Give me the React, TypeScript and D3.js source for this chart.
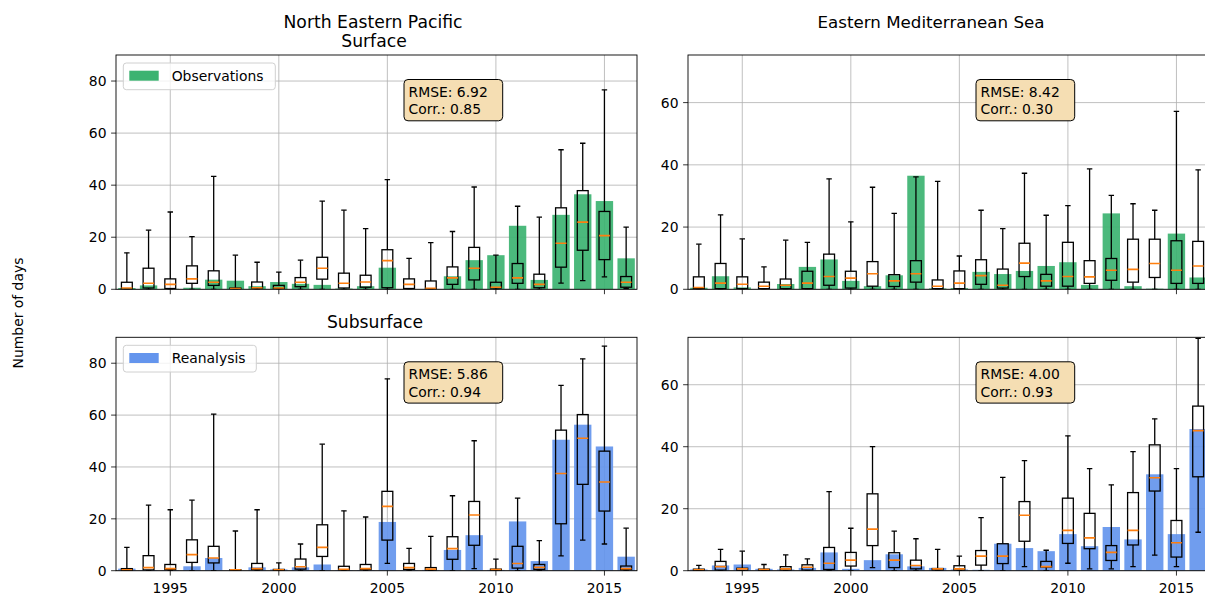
import React from 'react';
import * as d3 from 'd3';

// years on the x axis
const years = [1993, 1994, 1995, 1996, 1997, 1998, 1999, 2000, 2001, 2002, 2003, 2004,
  2005, 2006, 2007, 2008, 2009, 2010, 2011, 2012, 2013, 2014, 2015, 2016];

const xTicks = [1995, 2000, 2005, 2010, 2015];
const yTicksLeft = [0, 20, 40, 60, 80];
const yTicksRight = [0, 20, 40, 60];

// bar values (number of days)
const nepSurfBars = [0.5, 1.5, 0.2, 0.6, 3.7, 3.3, 1.2, 2.8, 2.1, 1.7, 0.3, 1.2,
  8.3, 0, 0, 5.0, 11.2, 13.1, 24.4, 3.6, 28.6, 36.5, 33.9, 11.9];
const emedSurfBars = [0.5, 4.2, 0.6, 0, 1.7, 7.2, 9.6, 2.7, 1.0, 4.5, 36.5, 0.3,
  0.4, 5.6, 4.9, 5.9, 7.5, 8.7, 1.4, 24.4, 1.0, 0.2, 17.9, 3.8];
const nepSubBars = [0.8, 0.2, 0.2, 1.7, 4.9, 0, 1.3, 0.5, 1.3, 2.4, 0.2, 0.2,
  18.8, 0.2, 0.3, 8.0, 13.7, 0.3, 19.0, 3.7, 50.5, 56.3, 47.9, 5.4];
const emedSubBars = [0.4, 1.7, 2.0, 0.6, 0.4, 0.9, 5.9, 0.6, 3.4, 5.3, 1.4, 0.9,
  0.4, 0.3, 8.7, 7.3, 6.3, 11.8, 7.9, 14.1, 10.1, 31.1, 11.8, 45.7];

// box plots: [whisker low, q1, median, q3, whisker high]
const nepSurfBox = [
  [0, 0, 0.5, 2.7, 14], [0, 0.5, 2.3, 8.1, 22.7], [0, 0.3, 1.9, 4.0, 29.7], [0, 2.3, 4.0, 9.0, 20.2],
  [0, 1.5, 2.7, 7.1, 43.4], [0, 0, 0.3, 0.5, 13.1], [0, 0.5, 0.6, 2.8, 10.4], [0, 0.3, 0.5, 1.5, 6.6],
  [0, 1.0, 2.7, 4.5, 11.2], [0, 3.9, 8.1, 12.3, 33.9], [0, 0.5, 2.3, 6.2, 30.4], [0, 0.8, 2.8, 5.4, 23.3],
  [0, 0.6, 11.0, 15.2, 42.1], [0, 0.3, 1.9, 4.0, 11.9], [0, 0.1, 0.4, 3.2, 17.9], [0, 1.9, 4.4, 8.6, 22.2],
  [0, 3.6, 8.1, 16.1, 39.3], [0, 0.5, 0.8, 2.7, 13.1], [0, 2.3, 4.4, 9.9, 31.9], [0, 0.6, 1.9, 5.8, 27.7],
  [2.4, 8.5, 17.7, 31.3, 53.6], [3.3, 15.0, 25.8, 37.9, 56.1], [4.8, 11.4, 20.6, 29.9, 76.6], [0.3, 0.8, 2.7, 4.9, 23.9],
];
const emedSurfBox = [
  [0, 0.2, 0.6, 4.0, 14.5], [0, 0.2, 2.0, 8.3, 23.9], [0, 0.2, 1.6, 4.0, 16.2], [0, 0.2, 1.0, 2.3, 7.2],
  [0, 0.2, 1.3, 3.3, 15.8], [0, 0.2, 2.0, 5.8, 15.1], [0, 1.3, 4.1, 11.3, 35.5], [0, 0.4, 3.6, 5.8, 21.7],
  [0, 1.0, 5.0, 8.9, 32.8], [0, 0.9, 2.7, 4.7, 24.4], [0, 2.3, 5.0, 9.2, 36.1], [0, 0.2, 1.0, 3.0, 34.7],
  [0, 0.2, 2.0, 5.9, 10.7], [0, 1.6, 4.4, 9.5, 25.4], [0, 0.4, 1.3, 6.5, 19.5], [0, 4.1, 8.4, 14.8, 37.3],
  [0, 1.0, 2.7, 4.8, 23.8], [0, 1.0, 4.1, 15.1, 26.9], [0, 1.9, 4.0, 9.2, 38.7], [0, 2.9, 6.1, 9.9, 30.2],
  [0, 2.3, 6.4, 16.1, 27.5], [0, 3.8, 8.3, 16.1, 25.4], [0, 1.9, 6.1, 15.6, 57.2], [0, 1.9, 7.5, 15.4, 38.4],
];
const nepSubBox = [
  [0, 0, 0.3, 0.8, 9.0], [0, 0.3, 1.2, 5.8, 25.3], [0, 0.4, 0.8, 2.4, 23.5], [0, 3.2, 6.2, 11.9, 27.2],
  [0, 3.0, 4.9, 9.4, 60.4], [0, 0, 0.3, 0.4, 15.3], [0, 0.4, 0.8, 2.8, 23.5], [0, 0, 0.3, 0.5, 3.0],
  [0, 0.6, 1.5, 4.5, 10.3], [0, 5.5, 9.0, 17.7, 48.8], [0, 0.3, 0.5, 1.7, 23.1], [0, 0.4, 0.8, 2.4, 20.7],
  [2.8, 11.8, 24.8, 30.6, 74.0], [0, 0.5, 1.2, 2.8, 8.6], [0, 0.2, 0.6, 1.2, 13.2], [0, 4.4, 8.5, 13.1, 28.9],
  [0.8, 9.8, 21.5, 26.7, 50.1], [0, 0.1, 0.4, 0.6, 4.5], [0, 1.0, 2.8, 9.4, 28.0], [0, 0.5, 1.3, 2.4, 11.6],
  [5.7, 18.1, 37.5, 54.2, 71.5], [11.8, 33.3, 51.1, 60.2, 81.7], [10.3, 23.0, 34.2, 46.1, 86.6], [0, 0.4, 0.8, 1.8, 16.4],
];
const emedSubBox = [
  [0, 0, 0.3, 0.5, 1.7], [0, 0.2, 1.3, 3.0, 6.9], [0, 0, 0.6, 0.8, 6.3], [0, 0, 0.4, 0.5, 2.0],
  [0, 0.2, 0.6, 1.3, 5.1], [0, 0.2, 1.1, 1.9, 3.8], [0, 0.4, 2.4, 7.5, 25.5], [0, 1.5, 3.4, 5.9, 13.7],
  [1.0, 8.1, 13.4, 24.8, 40.0], [0, 1.0, 3.4, 5.8, 12.8], [0, 0.6, 1.7, 3.4, 10.3], [0, 0.2, 0.6, 0.7, 6.9],
  [0, 0.2, 0.6, 1.6, 4.7], [0, 1.8, 4.7, 6.5, 17.1], [0, 2.3, 4.7, 8.7, 30.1], [1.3, 9.5, 17.9, 22.3, 35.5],
  [0, 1.2, 1.3, 3.0, 6.6], [2.4, 8.8, 13.0, 23.4, 43.5], [0.6, 7.1, 10.6, 18.5, 32.9], [0.6, 3.3, 5.9, 8.1, 27.7],
  [1.3, 8.3, 13.0, 25.2, 38.4], [5.0, 25.7, 30.0, 40.6, 49.0], [1.3, 4.4, 9.0, 16.2, 32.9], [12.4, 30.3, 45.2, 53.1, 75.0],
];

const stats = [
  ['RMSE: 6.92', 'Corr.: 0.85'],
  ['RMSE: 8.42', 'Corr.: 0.30'],
  ['RMSE: 5.86', 'Corr.: 0.94'],
  ['RMSE: 4.00', 'Corr.: 0.93'],
];

const GREEN = '#3cb371';
const BLUE = '#6495ed';
const FONT = 'DejaVu Sans, sans-serif';

const Panel = ({ id, left, top, bottom, yMax, yTicks, bars, boxes, color, stat, legend, showXLabels }) => {
  const width = 521;
  const x = d3.scaleLinear().domain([1992.5, 2016.5]).range([left, left + width]);
  const y = d3.scaleLinear().domain([0, yMax]).range([bottom, top]);
  const bw = x(0.8) - x(0);
  const boxW = x(0.5) - x(0);
  const capW = x(0.25) - x(0);
  const lw = 1.3;

  return (
    <g>
      <defs>
        <clipPath id={id}>
          <rect x={left} y={top} width={width} height={bottom - top} />
        </clipPath>
      </defs>
      {/* grid */}
      <g stroke="#b0b0b0" strokeWidth={0.8}>
        {yTicks.map((t) => (
          <line key={'gy' + t} x1={left} x2={left + width} y1={y(t)} y2={y(t)} />
        ))}
        {xTicks.map((t) => (
          <line key={'gx' + t} x1={x(t)} x2={x(t)} y1={top} y2={bottom} />
        ))}
      </g>
      <g clipPath={`url(#${id})`}>
        {bars.map((v, i) => (
          <rect key={'b' + i} x={x(years[i]) - bw / 2} y={y(v)} width={bw} height={y(0) - y(v)}
            fill={color} fillOpacity={0.92} />
        ))}
        {boxes.map((b, i) => {
          const cx = x(years[i]);
          const [lo, q1, med, q3, hi] = b;
          return (
            <g key={'bx' + i}>
              <line x1={cx} x2={cx} y1={y(q3)} y2={y(hi)} stroke="#000" strokeWidth={lw} />
              <line x1={cx} x2={cx} y1={y(q1)} y2={y(lo)} stroke="#000" strokeWidth={lw} />
              <line x1={cx - capW / 2} x2={cx + capW / 2} y1={y(hi)} y2={y(hi)} stroke="#000" strokeWidth={lw} />
              <line x1={cx - capW / 2} x2={cx + capW / 2} y1={y(lo)} y2={y(lo)} stroke="#000" strokeWidth={lw} />
              <rect x={cx - boxW / 2} y={y(q3)} width={boxW} height={y(q1) - y(q3)}
                fill="none" stroke="#000" strokeWidth={lw} />
              <line x1={cx - boxW / 2} x2={cx + boxW / 2} y1={y(med)} y2={y(med)} stroke="#ff7f0e" strokeWidth={1.6} />
            </g>
          );
        })}
      </g>
      {/* spines */}
      <rect x={left} y={top} width={width} height={bottom - top} fill="none" stroke="#000" strokeWidth={0.9} />
      {/* y ticks */}
      {yTicks.map((t) => (
        <g key={'ty' + t}>
          <line x1={left - 4.9} x2={left} y1={y(t)} y2={y(t)} stroke="#000" strokeWidth={0.8} />
          <text x={left - 9.5} y={y(t) + 5} textAnchor="end" fontSize={13.9} fontFamily={FONT} fill="#000">{t}</text>
        </g>
      ))}
      {/* x ticks */}
      {xTicks.map((t) => (
        <g key={'tx' + t}>
          <line x1={x(t)} x2={x(t)} y1={bottom} y2={bottom + 4.9} stroke="#000" strokeWidth={0.8} />
          {showXLabels && (
            <text x={x(t)} y={bottom + 22} textAnchor="middle" fontSize={13.9} fontFamily={FONT} fill="#000">{t}</text>
          )}
        </g>
      ))}
      {/* stats box */}
      <g>
        <rect x={left + 288} y={top + 24.5} width={98.7} height={41.3} rx={4} fill="#f5deb3" stroke="#000" strokeWidth={1} />
        <text x={left + 292.5} y={top + 41.5} fontSize={13.9} fontFamily={FONT} fill="#000">{stat[0]}</text>
        <text x={left + 292.5} y={top + 59.2} fontSize={13.9} fontFamily={FONT} fill="#000">{stat[1]}</text>
      </g>
      {legend && (
        <g>
          <rect x={left + 7.3} y={top + 8} width={legend.w} height={26.7} rx={3} fill="#fff" fillOpacity={0.8}
            stroke="#d0d0d0" strokeWidth={1} />
          <rect x={left + 13.3} y={top + 15.7} width={29.4} height={10} fill={color} />
          <text x={left + 55.7} y={top + 25.8} fontSize={13.9} fontFamily={FONT} fill="#000">{legend.label}</text>
        </g>
      )}
    </g>
  );
};

export default function App() {
  const L = 116;
  const R = 688;
  const T1 = 55, B1 = 289.3, T2 = 337.3, B2 = 570.7;
  return (
    <svg width={1205} height={597} style={{ position: 'absolute', left: 0, top: 0, background: '#fff' }}>
      <rect width={1205} height={597} fill="#fff" />
      <text x={373} y={27.5} textAnchor="middle" fontSize={17.2} fontFamily={FONT} fill="#000">North Eastern Pacific</text>
      <text x={374} y={46.5} textAnchor="middle" fontSize={17.2} fontFamily={FONT} fill="#000">Surface</text>
      <text x={931} y={27.5} textAnchor="middle" fontSize={16.7} fontFamily={FONT} fill="#000">Eastern Mediterranean Sea</text>
      <text x={375} y={327.5} textAnchor="middle" fontSize={17.2} fontFamily={FONT} fill="#000">Subsurface</text>
      <text transform="translate(23,313) rotate(-90)" textAnchor="middle" fontSize={13.9} fontFamily={FONT} fill="#000">Number of days</text>

      <Panel id="c1" left={L} top={T1} bottom={B1} yMax={90} yTicks={yTicksLeft} bars={nepSurfBars} boxes={nepSurfBox}
        color={GREEN} stat={stats[0]} legend={{ label: 'Observations', w: 152 }} showXLabels={false} />
      <Panel id="c2" left={R} top={T1} bottom={B1} yMax={75.3} yTicks={yTicksRight} bars={emedSurfBars} boxes={emedSurfBox}
        color={GREEN} stat={stats[1]} legend={null} showXLabels={false} />
      <Panel id="c3" left={L} top={T2} bottom={B2} yMax={90} yTicks={yTicksLeft} bars={nepSubBars} boxes={nepSubBox}
        color={BLUE} stat={stats[2]} legend={{ label: 'Reanalysis', w: 133 }} showXLabels={true} />
      <Panel id="c4" left={R} top={T2} bottom={B2} yMax={75.3} yTicks={yTicksRight} bars={emedSubBars} boxes={emedSubBox}
        color={BLUE} stat={stats[3]} legend={null} showXLabels={true} />
    </svg>
  );
}
